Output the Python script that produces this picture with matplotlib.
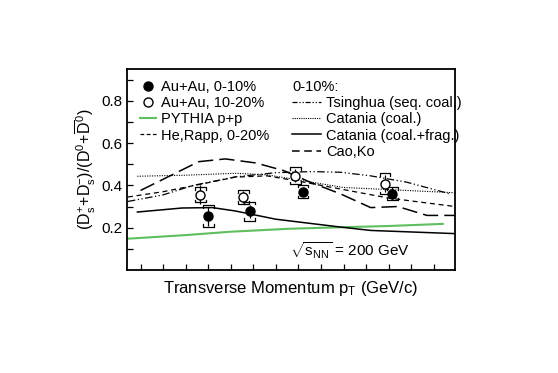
import numpy as np
import matplotlib
matplotlib.use('Agg')
import matplotlib.pyplot as plt
from matplotlib.lines import Line2D

plt.rcParams['font.family'] = ['Liberation Sans', 'DejaVu Sans']
plt.rcParams['mathtext.fontset'] = 'custom'
plt.rcParams['mathtext.rm'] = 'Liberation Sans'
plt.rcParams['mathtext.it'] = 'Liberation Sans:italic'

# data points
pt_010 = [2.0, 2.92, 4.1, 6.08]
r_010 = [0.255, 0.277, 0.371, 0.36]
stat_010 = [0.045, 0.03, 0.02, 0.03]
sys_010 = [0.05, 0.045, 0.032, 0.03]

pt_1020 = [1.82, 2.78, 3.93, 5.92]
r_1020 = [0.355, 0.345, 0.446, 0.407]
stat_1020 = [0.045, 0.03, 0.03, 0.04]
sys_1020 = [0.035, 0.033, 0.04, 0.05]

# model curves
pt_pythia = [0.22, 1.5, 2.5, 3.8, 4.93, 6.0, 7.2]
r_pythia = [0.148, 0.165, 0.181, 0.195, 0.202, 0.208, 0.218]

pt_rapp = [0.22, 1.0, 1.87, 2.6, 3.3, 4.0, 5.0, 6.0, 7.47]
r_rapp = [0.345, 0.37, 0.407, 0.439, 0.445, 0.42, 0.38, 0.34, 0.30]

pt_tsing = [0.22, 1.0, 1.65, 2.6, 3.5, 4.3, 4.93, 5.6, 6.4, 7.36]
r_tsing = [0.324, 0.355, 0.399, 0.44, 0.46, 0.465, 0.462, 0.445, 0.415, 0.36]

pt_cat = [0.43, 1.5, 2.6, 3.3, 4.0, 5.0, 6.0, 7.47]
r_cat = [0.443, 0.448, 0.457, 0.45, 0.425, 0.39, 0.38, 0.365]

pt_catfr = [0.43, 1.42, 2.09, 2.6, 3.5, 4.93, 5.6, 7.47]
r_catfr = [0.274, 0.293, 0.295, 0.279, 0.24, 0.203, 0.187, 0.172]

pt_cao = [0.5, 1.79, 2.38, 3.05, 3.67, 4.26, 4.93, 5.6, 6.2, 6.85, 7.47]
r_cao = [0.376, 0.512, 0.525, 0.506, 0.47, 0.415, 0.36, 0.295, 0.30, 0.258, 0.258]

fig = plt.figure(figsize=(5.58, 3.73), dpi=100)
ax = fig.add_axes([0.2276, 0.2761, 0.5878, 0.539])

green = '#5fbf5f'
ax.plot(pt_pythia, r_pythia, color=green, lw=1.5)
ax.plot(pt_rapp, r_rapp, color='k', lw=0.9, ls=(0, (4, 3)))
ax.plot(pt_tsing, r_tsing, color='k', lw=0.9, ls=(0, (6, 2, 1, 2, 1, 2)))
ax.plot(pt_cat, r_cat, color='k', lw=0.8, ls=(0, (1, 1.2)))
ax.plot(pt_catfr, r_catfr, color='k', lw=1.1)
ax.plot(pt_cao, r_cao, color='k', lw=1.1, ls=(0, (10, 4)))

# systematic brackets
def brackets(x, y, s):
    w = 0.12
    h = 0.012
    for xi, yi, si in zip(x, y, s):
        for sign in (1, -1):
            yb = yi + sign * si
            ax.plot([xi - w, xi - w, xi + w, xi + w],
                    [yb - sign * h, yb, yb, yb - sign * h], color='k', lw=0.9)

brackets(pt_010, r_010, sys_010)
brackets(pt_1020, r_1020, sys_1020)

ax.errorbar(pt_1020, r_1020, yerr=stat_1020, fmt='o', mfc='white', mec='k',
            ms=6.5, ecolor='k', elinewidth=0.9, capsize=0, zorder=5)
ax.errorbar(pt_010, r_010, yerr=stat_010, fmt='o', color='k',
            ms=6.5, elinewidth=0.9, capsize=0, zorder=5)

ax.set_xlim(0.2, 7.47)
ax.set_ylim(0, 0.95)
ax.set_xticks(np.arange(0.5, 7.1, 0.5))
ax.set_xticklabels([])
ax.set_yticks([0.2, 0.4, 0.6, 0.8])
ax.set_yticklabels(['0.2', '0.4', '0.6', '0.8'])
ax.set_yticks(np.arange(0.1, 0.95, 0.2), minor=True)
ax.tick_params(axis='both', which='both', direction='in', length=4, width=0.9,
               labelsize=11, top=False, right=False)
for sp in ax.spines.values():
    sp.set_linewidth(1.3)

ax.set_xlabel(r'Transverse Momentum p$_\mathrm{T}$ (GeV/c)', fontsize=12, labelpad=3)
ax.set_ylabel(r'$(\mathrm{D}_\mathrm{s}^{+}\!+\!\mathrm{D}_\mathrm{s}^{-})/(\mathrm{D}^{0}\!+\!\overline{\mathrm{D}}^{0})$',
              fontsize=11.5, labelpad=2)

ax.text(0.68, 0.095, r'$\sqrt{\mathrm{s}_{\mathrm{NN}}}$ = 200 GeV', transform=ax.transAxes,
        fontsize=11, va='center', ha='center')

# left legend
h_left = [Line2D([], [], marker='o', color='k', ls='none', ms=6.5),
          Line2D([], [], marker='o', mfc='white', mec='k', ls='none', ms=6.5),
          Line2D([], [], color=green, lw=1.5),
          Line2D([], [], color='k', lw=0.9, ls=(0, (3, 2)))]
l_left = ['Au+Au, 0-10%', 'Au+Au, 10-20%', 'PYTHIA p+p', 'He,Rapp, 0-20%']
leg1 = ax.legend(h_left, l_left, loc='upper left', bbox_to_anchor=(140 / 558, 1 - 80 / 373),
                 bbox_transform=fig.transFigure, frameon=False, fontsize=10.5,
                 handlelength=1.1, handletextpad=0.35, labelspacing=0.15,
                 borderpad=0, borderaxespad=0)
ax.add_artist(leg1)

h_right = [Line2D([], [], color='k', lw=0.9, ls=(0, (4, 1.5, 1, 1.5, 1, 1.5))),
           Line2D([], [], color='k', lw=0.8, ls=(0, (1, 1))),
           Line2D([], [], color='k', lw=1.1),
           Line2D([], [], color='k', lw=1.1, ls=(0, (5, 3)))]
l_right = ['Tsinghua (seq. coal.)', 'Catania (coal.)', 'Catania (coal.+frag.)', 'Cao,Ko']
leg2 = ax.legend(h_right, l_right, title='0-10%:', title_fontsize=10.5, alignment='left',
                 loc='upper left', bbox_to_anchor=(292 / 558, 1 - 80 / 373),
                 bbox_transform=fig.transFigure, frameon=False, fontsize=10.5,
                 handlelength=2.0, handletextpad=0.35, labelspacing=0.15,
                 borderpad=0, borderaxespad=0)

fig.savefig('out.png', dpi=100)
